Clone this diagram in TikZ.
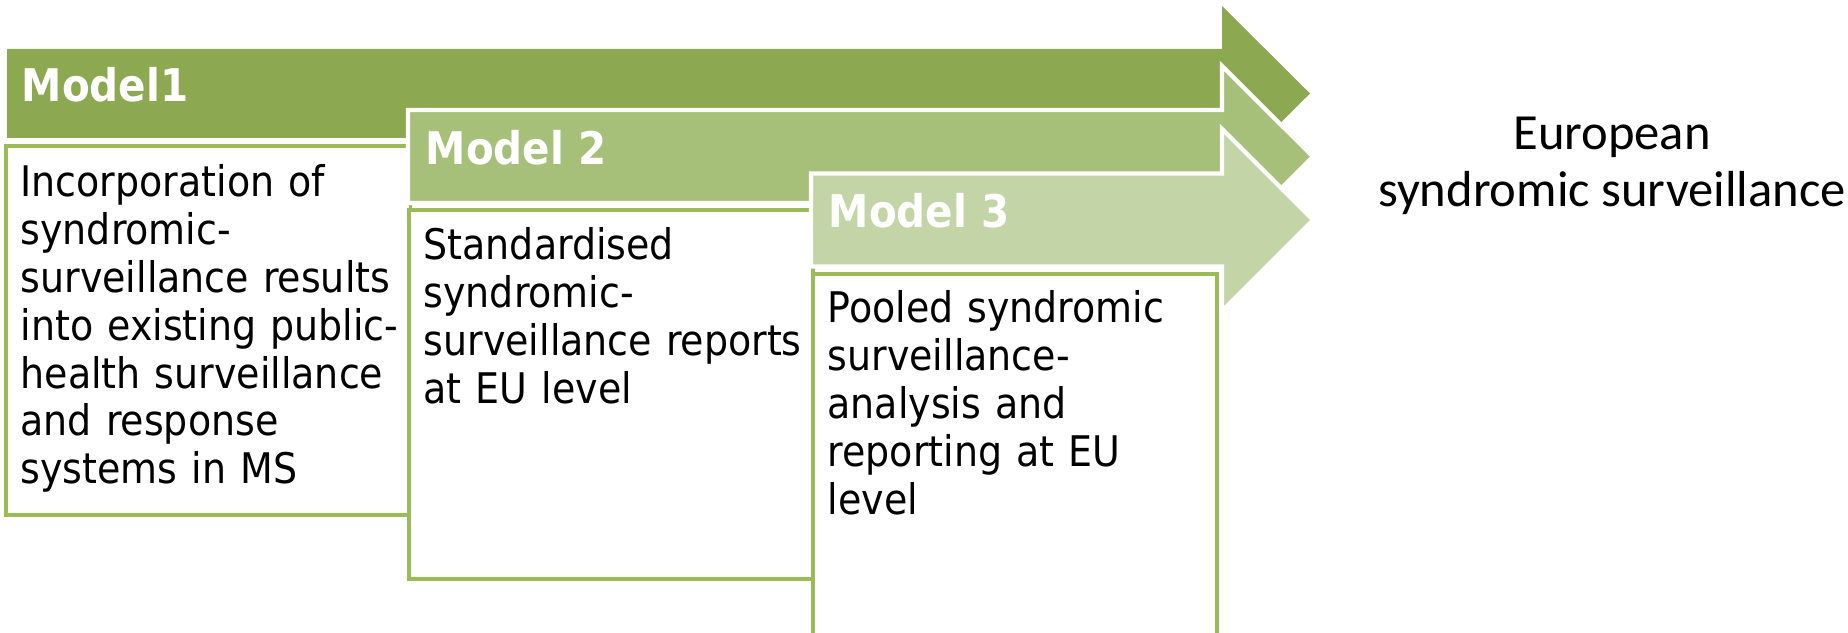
\documentclass[tikz,border=0pt]{standalone}
\usepackage{fontspec}
\setmainfont{DejaVu Sans Condensed}
\newfontfamily\eufont{Carlito}
\definecolor{modelA}{RGB}{140,168,80}
\definecolor{modelB}{RGB}{166,192,122}
\definecolor{modelC}{RGB}{195,212,167}
\definecolor{boxgreen}{RGB}{155,187,89}
\begin{document}
\begin{tikzpicture}[
    band/.style={draw=white,line width=1.2pt,line join=miter},
    card/.style={draw=boxgreen,fill=white,line width=1pt,rectangle,minimum width=4.04cm,minimum height=3.69cm,anchor=north west,inner sep=0pt},
    cardtext/.style={anchor=base west,text width=3.85cm,align=left,inner sep=0pt,font=\fontsize{12}{13.6}\selectfont},
    tag/.style={anchor=base west,inner sep=0pt,text=white,font=\fontsize{12.8}{14}\selectfont\bfseries}]
    \useasboundingbox (0,0) rectangle (18.48,6.32);
    %% Model 1
    \fill[modelA] (0.07,5.83) -- (12.22,5.83) -- (12.22,6.26) -- (13.10,5.385) -- (12.22,4.51) -- (12.22,4.94) -- (0.07,4.94) -- cycle;
    \node[tag] (L1) at (0.21,5.30) {Model1};
    \node[card] (B1) at (0.045,4.88) {};
    \node[cardtext] (T1) at (0.20,4.35) {Incorporation of\\syndromic-\\surveillance results\\into existing public-\\health surveillance\\and response\\systems in MS};
    %% Model 2
    \draw[band,fill=modelB] (4.08,5.22) -- (12.22,5.22) -- (12.22,5.66) -- (13.13,4.753) -- (12.22,3.85) -- (12.22,4.29) -- (4.08,4.29) -- cycle;
    \node[tag] (L2) at (4.25,4.67) {Model 2};
    \node[card] (B2) at (4.07,4.24) {};
    \node[cardtext] (T2) at (4.23,3.72) {Standardised\\syndromic-\\surveillance reports\\at EU level};
    %% Model 3
    \draw[band,fill=modelC] (8.11,4.585) -- (12.22,4.585) -- (12.22,5.03) -- (13.13,4.12) -- (12.22,3.21) -- (12.22,3.655) -- (8.11,3.655) -- cycle;
    \node[tag] (L3) at (8.28,4.04) {Model 3};
    \node[card] (B3) at (8.11,3.60) {};
    \node[cardtext] (T3) at (8.27,3.09) {Pooled syndromic\\surveillance-\\analysis and\\reporting at EU\\level};
    %% Goal
    \node[align=center,inner sep=0pt,font=\eufont\fontsize{14.4}{16.2}\selectfont] (EU) at (16.12,4.66) {European\\syndromic surveillance};
\end{tikzpicture}
\end{document}
